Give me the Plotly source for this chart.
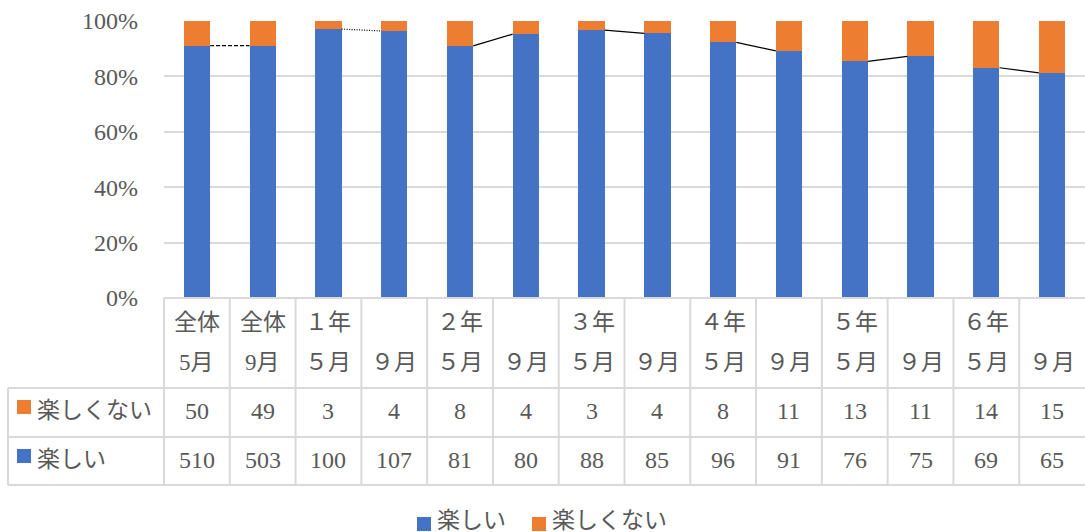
import plotly.graph_objects as go

# ---- data ----
top_labels = ["全体", "全体", "１年", "", "２年", "", "３年", "", "４年", "", "５年", "", "６年", ""]
month_labels = ["5月", "9月", "５月", "９月", "５月", "９月", "５月", "９月", "５月", "９月", "５月", "９月", "５月", "９月"]
fun = [510, 503, 100, 107, 81, 80, 88, 85, 96, 91, 76, 75, 69, 65]
not_fun = [50, 49, 3, 4, 8, 4, 3, 4, 8, 11, 13, 11, 14, 15]
series_fun = "楽しい"
series_not = "楽しくない"
pair_dash = ["4px,2px", "1px,1.5px", "solid", "solid", "solid", "solid", "solid"]

BLUE = "#4472C4"
ORANGE = "#ED7D31"
GRID = "#D9D9D9"
TXT = "#595959"
FONT = "Liberation Serif, Noto Sans CJK JP, serif"
FS = 23
FSN = 24

W, H = 1085, 532
L, R, T, B = 164, 0, 21, 234
n = len(fun)


def px(x):
    return (x - L) / (W - L - R)


def py(y):
    return (H - B - y) / (H - T - B)


xs = list(range(n))
fig = go.Figure()
fig.add_trace(go.Bar(x=xs, y=fun, name=series_fun, marker=dict(color=BLUE, line=dict(width=0)), width=0.4))
fig.add_trace(go.Bar(x=xs, y=not_fun, name=series_not, marker=dict(color=ORANGE, line=dict(width=0)), width=0.4))

# series lines connecting 5月 -> 9月 pairs
pct = [f / (f + nf) * 100 for f, nf in zip(fun, not_fun)]
for k in range(n // 2):
    i = 2 * k
    fig.add_trace(go.Scatter(x=[i + 0.2, i + 0.8], y=[pct[i], pct[i + 1]], mode="lines",
                             line=dict(color="#000000", width=1.2, dash=pair_dash[k]),
                             showlegend=False, hoverinfo="skip"))

shapes = []
ann = []
lc = dict(color=GRID, width=2)
y_top, y_r1, y_r2, y_r3 = 298, 388, 437, 485
# horizontal table lines
shapes.append(dict(type="line", xref="paper", yref="paper", x0=px(164), x1=1, y0=py(y_top), y1=py(y_top), line=lc))
for yy in (y_r1, y_r2, y_r3):
    shapes.append(dict(type="line", xref="paper", yref="paper", x0=px(8), x1=1, y0=py(yy), y1=py(yy), line=lc))
# vertical lines
shapes.append(dict(type="line", xref="paper", yref="paper", x0=px(8), x1=px(8), y0=py(y_r1), y1=py(y_r3), line=lc))
for k in range(n):
    xp = k / n
    shapes.append(dict(type="line", xref="paper", yref="paper", x0=xp, x1=xp, y0=py(y_top), y1=py(y_r3), line=lc))

fnt = dict(family=FONT, size=FS, color=TXT)
fntn = dict(family=FONT, size=FSN, color=TXT)
for i in range(n):
    if top_labels[i]:
        ann.append(dict(x=i, y=py(322), xref="x", yref="paper", text=top_labels[i], showarrow=False, font=fnt,
                        xanchor="center", yanchor="middle"))
    ann.append(dict(x=i, y=py(362), xref="x", yref="paper", text=month_labels[i], showarrow=False, font=fnt,
                    xanchor="center", yanchor="middle"))
    ann.append(dict(x=i, y=py(411), xref="x", yref="paper", text=str(not_fun[i]), showarrow=False, font=fntn,
                    xanchor="center", yanchor="middle"))
    ann.append(dict(x=i, y=py(460), xref="x", yref="paper", text=str(fun[i]), showarrow=False, font=fntn,
                    xanchor="center", yanchor="middle"))

# row headers with keys
def key(x0, yc, color):
    shapes.append(dict(type="rect", xref="paper", yref="paper", x0=px(x0), x1=px(x0 + 14),
                       y0=py(yc - 7), y1=py(yc + 7), fillcolor=color, line=dict(width=0)))

key(17, 407, ORANGE)
ann.append(dict(x=px(35), y=py(410), xref="paper", yref="paper", text=series_not, showarrow=False, font=fnt,
                xanchor="left", yanchor="middle"))
key(17, 456, BLUE)
ann.append(dict(x=px(35), y=py(459), xref="paper", yref="paper", text=series_fun, showarrow=False, font=fnt,
                xanchor="left", yanchor="middle"))

# bottom legend
key(417, 524, BLUE)
ann.append(dict(x=px(435), y=py(520), xref="paper", yref="paper", text=series_fun, showarrow=False, font=fnt,
                xanchor="left", yanchor="middle"))
key(532, 524, ORANGE)
ann.append(dict(x=px(550), y=py(520), xref="paper", yref="paper", text=series_not, showarrow=False, font=fnt,
                xanchor="left", yanchor="middle"))

fig.update_layout(
    width=W, height=H,
    margin=dict(l=L, r=R, t=T, b=B, pad=0),
    barmode="stack", barnorm="percent",
    plot_bgcolor="white", paper_bgcolor="white",
    showlegend=False,
    shapes=shapes, annotations=ann,
    font=dict(family=FONT, size=FS, color=TXT),
    xaxis=dict(range=[-0.5, n - 0.5], showticklabels=False, showgrid=False, zeroline=False, ticks=""),
    yaxis=dict(range=[0, 100], dtick=20, ticksuffix="%", showgrid=True, gridcolor=GRID, gridwidth=2,
               zeroline=False, showline=False, ticks="", ticklabelstandoff=25,
               tickfont=dict(family=FONT, size=FSN, color=TXT)),
)

fig.write_html("out.html", config={"displayModeBar": False},
               post_script="document.body.style.margin='0';document.body.style.overflow='hidden';")
